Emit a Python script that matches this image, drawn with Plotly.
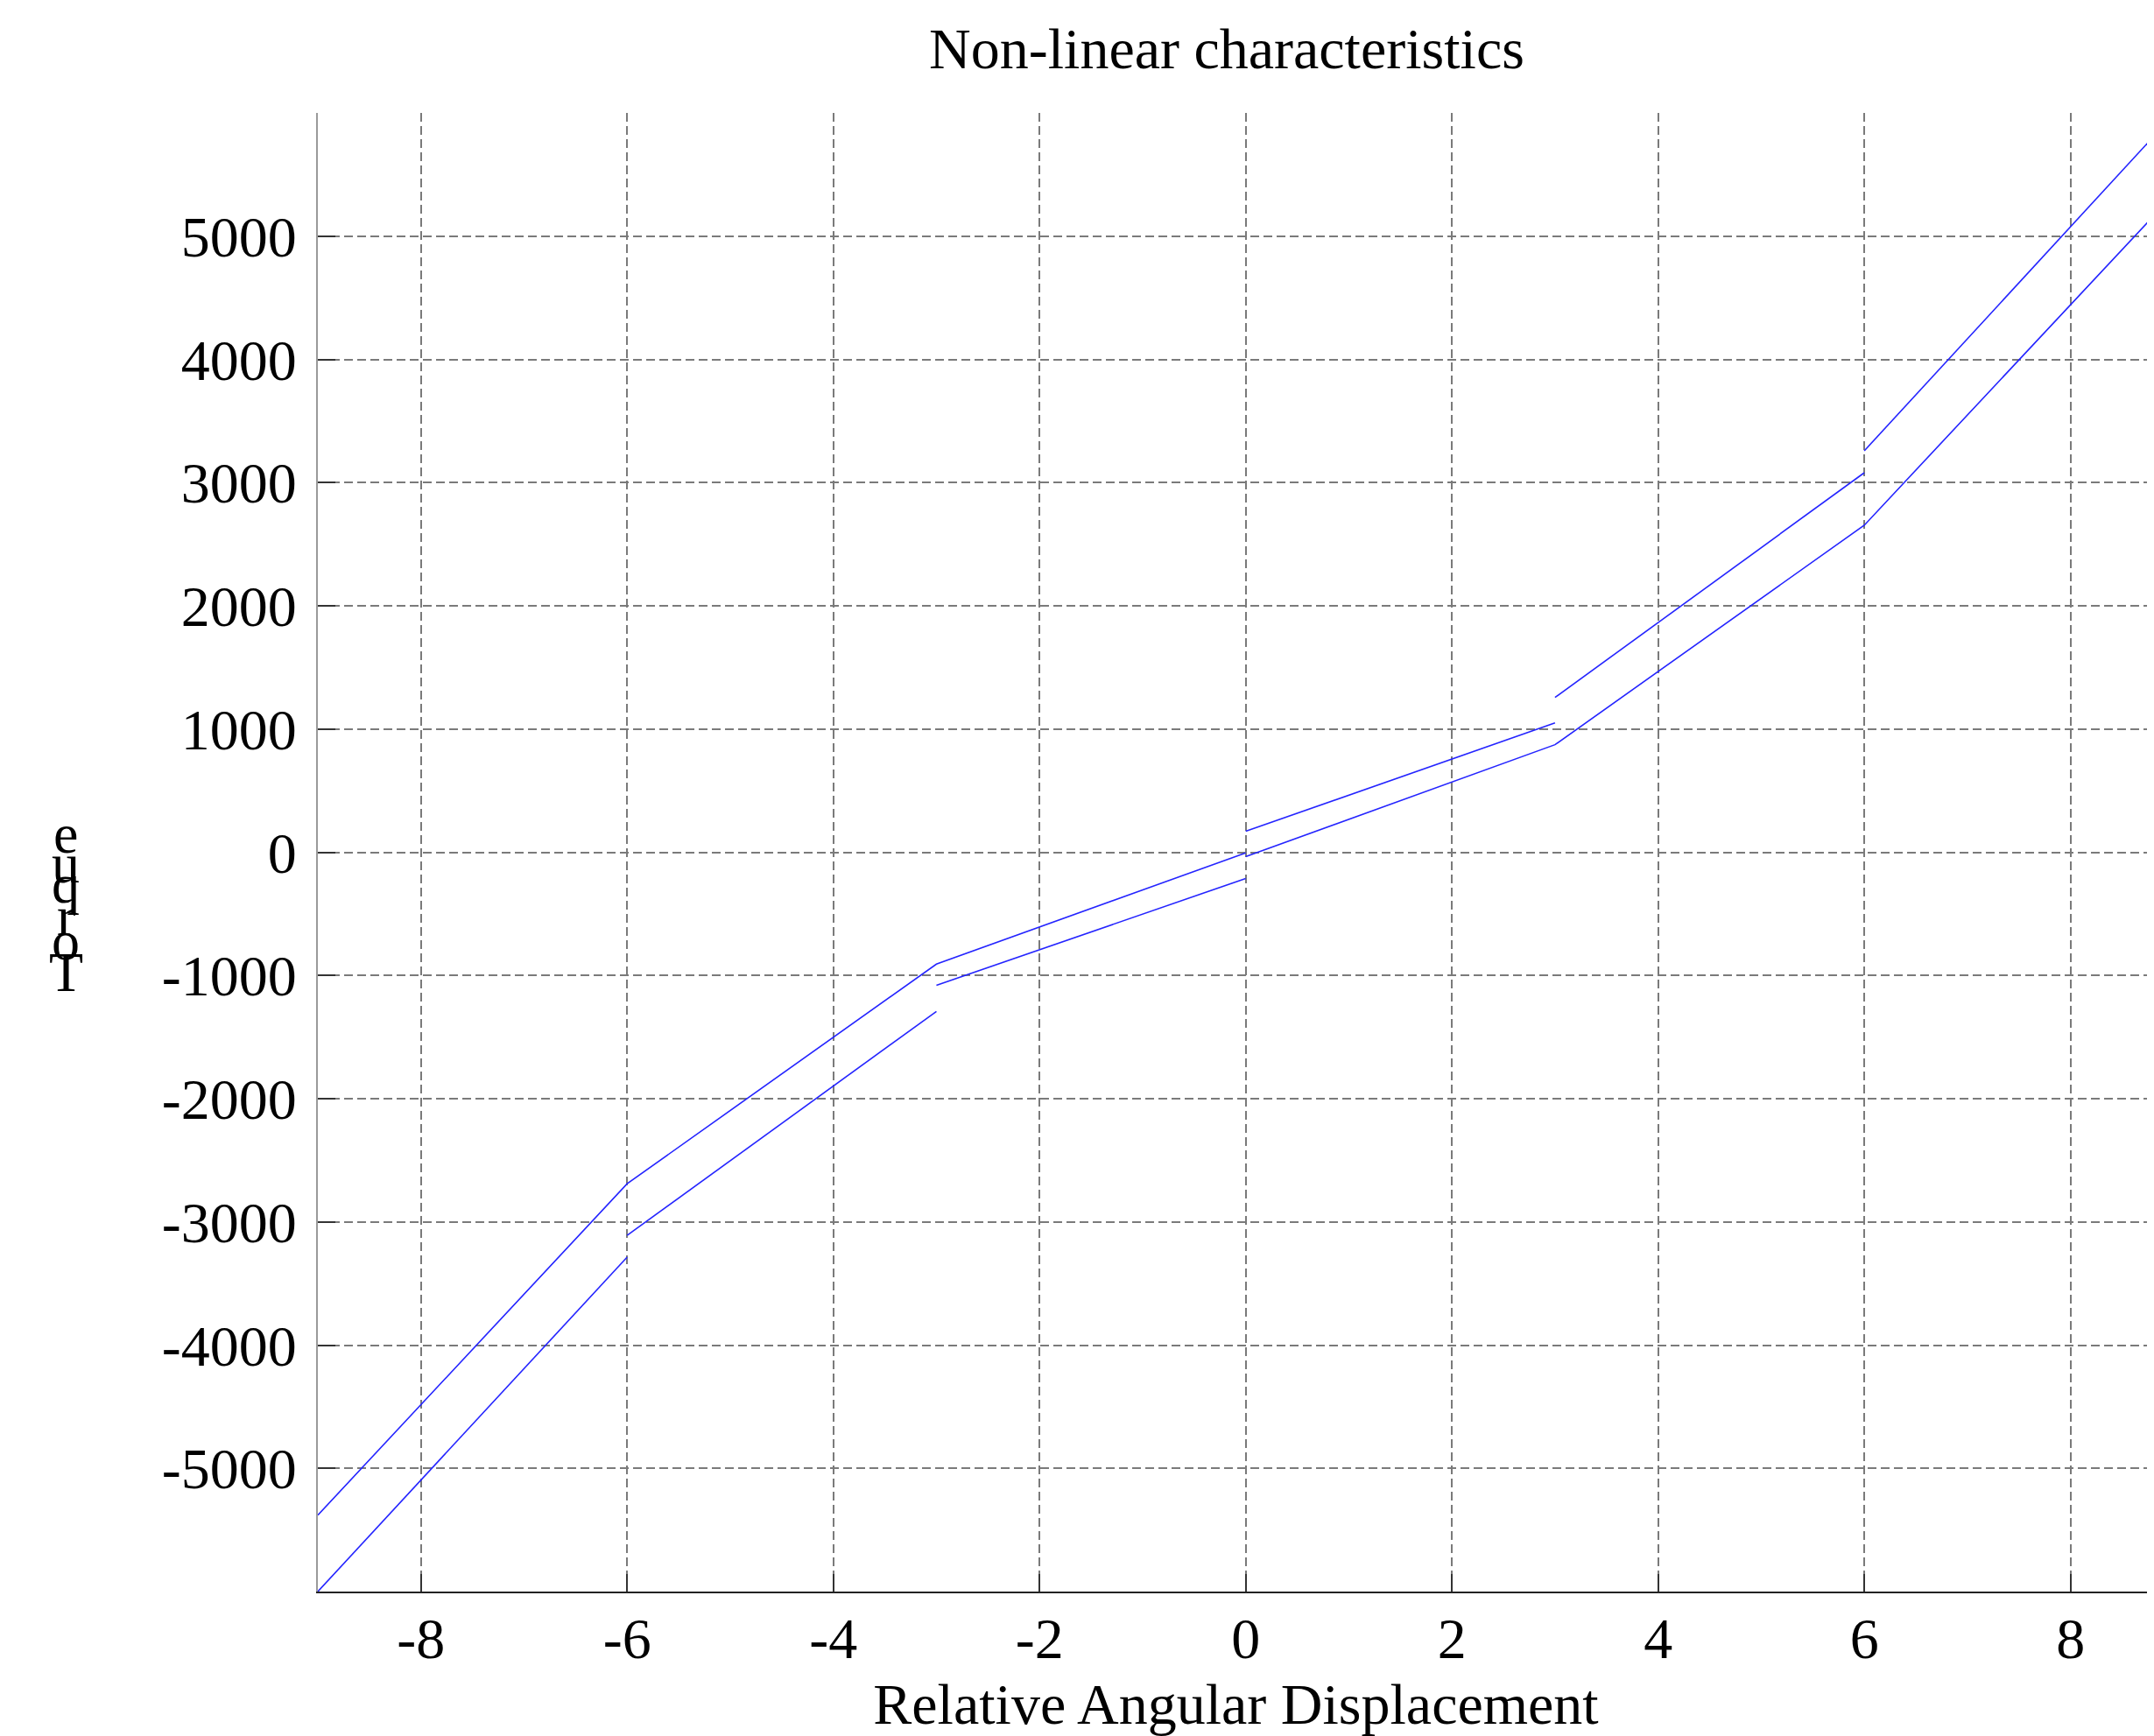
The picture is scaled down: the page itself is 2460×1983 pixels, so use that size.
import plotly.graph_objects as go

# ---- data ----
branch_a_x = [-9, -6, -3, 0]
branch_a_y = [-5380, -2690, -908, -5]
branch_b_x = [0, 3, 6, 9]
branch_b_y = [-35, 873, 2654, 5337]

seg1_x = [-9, -6]; seg1_y = [-6000, -3286]
seg2_x = [-6, -3]; seg2_y = [-3109, -1292]
seg3_x = [-3, 0];  seg3_y = [-1080, -213]
seg4_x = [0, 3];   seg4_y = [170, 1050]
seg5_x = [3, 6];   seg5_y = [1256, 3080]
seg6_x = [6, 9];   seg6_y = [3258, 5985]

x_ticks = [-8, -6, -4, -2, 0, 2, 4, 6, 8]
x_ticktext = ["-8", "-6", "-4", "-2", "0", "2", "4", "6", "8"]
y_ticks = [-5000, -4000, -3000, -2000, -1000, 0, 1000, 2000, 3000, 4000, 5000]
y_ticktext = ["-5000", "-4000", "-3000", "-2000", "-1000", "0",
              "1000", "2000", "3000", "4000", "5000"]

title_text = "Non-linear characteristics"
xlabel_text = "Relative Angular Displacement"
ylabel_text = "Torque"

# ---- figure ----
OFF = 8  # default page body margin in the browser
W, H = 2460 - OFF, 1983 - OFF
L, R, T, B = 363 - OFF, 0, 129 - OFF, 165
FONT = "Liberation Serif"
LINE = dict(color="#2424ff", width=1.6)

fig = go.Figure()
for xs, ys in [(branch_a_x, branch_a_y), (branch_b_x, branch_b_y),
               (seg1_x, seg1_y), (seg2_x, seg2_y), (seg3_x, seg3_y),
               (seg4_x, seg4_y), (seg5_x, seg5_y), (seg6_x, seg6_y)]:
    fig.add_trace(go.Scatter(x=xs, y=ys, mode="lines", line=LINE,
                             showlegend=False, hoverinfo="skip", cliponaxis=True))

plot_h = H - T - B
plot_w = W - L - R

fig.update_layout(
    width=W, height=H,
    margin=dict(l=L, r=R, t=T, b=B, pad=0, autoexpand=False),
    paper_bgcolor="white", plot_bgcolor="white",
    font=dict(family=FONT, size=64, color="black"),
    title=dict(text=title_text, font=dict(family=FONT, size=66, color="black"),
               x=(1401 - OFF - L) / plot_w, xref="paper", xanchor="center",
               y=1 - 47 / H, yref="container", yanchor="middle", automargin=False),
    xaxis=dict(range=[-9, 8.81], tickvals=x_ticks, ticktext=x_ticktext,
               showgrid=True, gridcolor="#7a7a7a", gridwidth=1.5, griddash="10px,5px",
               zeroline=False, showline=True, linecolor="#222222", linewidth=2,
               ticks="inside", ticklen=20, tickwidth=1.5, tickcolor="#333333",
               ticklabelstandoff=-5, automargin=False,
               tickfont=dict(family=FONT, size=66, color="black"),
               title=dict(text=xlabel_text, font=dict(family=FONT, size=66, color="black"),
                          standoff=33)),
    yaxis=dict(range=[-6000, 6000], tickvals=y_ticks, ticktext=y_ticktext,
               showgrid=True, gridcolor="#7a7a7a", gridwidth=1.5, griddash="10px,5px",
               zeroline=False, showline=True, linecolor="#9a9a9a", linewidth=2,
               ticks="inside", ticklen=20, tickwidth=1.5, tickcolor="#333333",
               ticklabelstandoff=9, automargin=False,
               tickfont=dict(family=FONT, size=66, color="black")),
)

# stacked upright letters of the y label (bottom to top), as in the reference
letter_centers_px = [1110, 1074, 1046, 1010, 986, 953]
for ch, py in zip(ylabel_text, letter_centers_px):
    fig.add_annotation(text=ch, xref="paper", yref="paper", x=0, xshift=75 - OFF - L,
                       y=(H - B - (py - OFF)) / plot_h, xanchor="center", yanchor="middle",
                       showarrow=False, font=dict(family=FONT, size=64, color="black"))

fig.write_html("out.html")
